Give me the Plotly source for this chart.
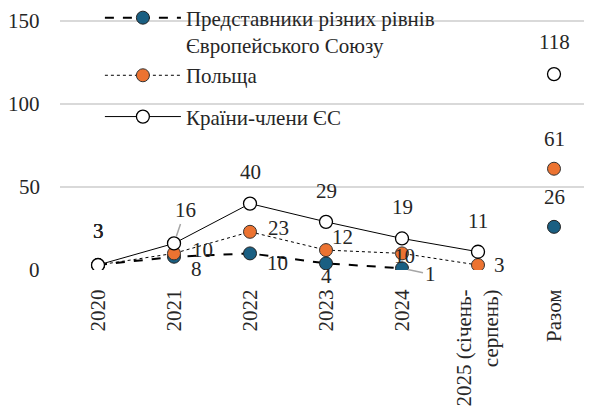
import plotly.graph_objects as go

# категорії осі X
years = ["2020", "2021", "2022", "2023", "2024", "2025 (січень-<br>серпень)"]
total_cat = "Разом"

# значення рядів по роках (None = немає даних)
eu_reps = [3, 8, 10, 4, 1, None]
poland = [3, 10, 23, 12, 10, 3]
eu_members = [3, 16, 40, 29, 19, 11]

# підсумки (Разом)
eu_reps_total = 26
poland_total = 61
eu_members_total = 118

# поділки осі Y
y_ticks = [0, 50, 100, 150]

names = ["Представники різних рівнів<br>Європейського Союзу", "Польща", "Країни-члени ЄС"]

FONT = "Liberation Serif"
TXT = "#262626"
C_BLUE = "#1A5F82"
C_ORANGE = "#EC7331"

fig = go.Figure()

series = [
    (names[0], eu_reps, eu_reps_total, dict(color="black", width=2, dash="dash"),
     dict(color=C_BLUE, size=13, line=dict(color="#222", width=1)), "g1"),
    (names[1], poland, poland_total, dict(color="black", width=1, dash="dot"),
     dict(color=C_ORANGE, size=13, line=dict(color="#333", width=1)), "g1"),
    (names[2], eu_members, eu_members_total, dict(color="black", width=1),
     dict(color="white", size=13, line=dict(color="black", width=1.3)), "g2"),
]

cats = years + [total_cat]
for name, vals, tot, ln, mk, grp in series:
    fig.add_trace(go.Scatter(x=years, y=vals, name=name, mode="lines+markers",
                             line=ln, marker=mk, legendgroup=grp, connectgaps=False,
                             hoverinfo="skip"))
    fig.add_trace(go.Scatter(x=[total_cat], y=[tot], mode="markers", marker=mk,
                             showlegend=False, legendgroup=grp, hoverinfo="skip"))

# підписи даних: зсуви в пікселях (x, y)
offsets = {
    "reps": [(0, 34), (22, -12), (27, -10), (0, -13), None, None, (0, 30)],
    "pol": [(0, 34), (28, 3), (28, 4), (16, 13), (2, -3), (21, 0), (0, 30)],
    "mem": [(0, 34), None, (0, 32), (0, 31), (0, 31), (0, 31), (0, 32)],
}
lbl_font = dict(family=FONT, size=21, color=TXT)
for key, vals, tot in [("reps", eu_reps, eu_reps_total), ("pol", poland, poland_total),
                       ("mem", eu_members, eu_members_total)]:
    full = vals + [tot]
    for i, v in enumerate(full):
        off = offsets[key][i]
        if v is None or off is None:
            continue
        fig.add_annotation(x=i, y=v, text=str(v), showarrow=False,
                           xshift=off[0], yshift=off[1], font=lbl_font)

# підписи з лініями-виносками
fig.add_annotation(x=1, y=eu_members[1], text=str(eu_members[1]), showarrow=True,
                   arrowhead=0, arrowwidth=1.5, arrowcolor="#A6A6A6", ax=11, ay=-33,
                   standoff=7, font=lbl_font)
fig.add_annotation(x=4, y=eu_reps[4], text=str(eu_reps[4]), showarrow=True,
                   arrowhead=0, arrowwidth=1.5, arrowcolor="#A6A6A6", ax=28, ay=6,
                   standoff=6, font=lbl_font)

# підписи осі Y (вирівняні праворуч)
for t in y_ticks:
    fig.add_annotation(x=0, xref="paper", y=t, yref="y", text=str(t), showarrow=False,
                       xanchor="right", xshift=-18, font=lbl_font)

fig.update_layout(
    width=584, height=403,
    margin=dict(l=52, r=0, t=0, b=141, autoexpand=False),
    plot_bgcolor="white", paper_bgcolor="white",
    font=dict(family=FONT, size=21, color=TXT),
    showlegend=True,
    legend=dict(x=0.075, y=1.04, xanchor="left", yanchor="top", bgcolor="rgba(0,0,0,0)",
                font=dict(family=FONT, size=21, color=TXT), valign="top",
                traceorder="grouped", tracegroupgap=11, itemwidth=76),
    xaxis=dict(type="category", categoryorder="array", categoryarray=cats,
               range=[-0.5, 6.5], tickangle=-90, showgrid=False, showline=False,
               ticks="outside", ticklen=10, tickcolor="rgba(0,0,0,0)",
               tickfont=dict(family=FONT, size=21, color=TXT)),
    yaxis=dict(range=[0, 157.8], tickvals=y_ticks, showgrid=True, showticklabels=False,
               gridcolor="#D9D9D9", gridwidth=1.5, zeroline=False, showline=False,
               ticks=""),
)

fig.write_html("out.html")
